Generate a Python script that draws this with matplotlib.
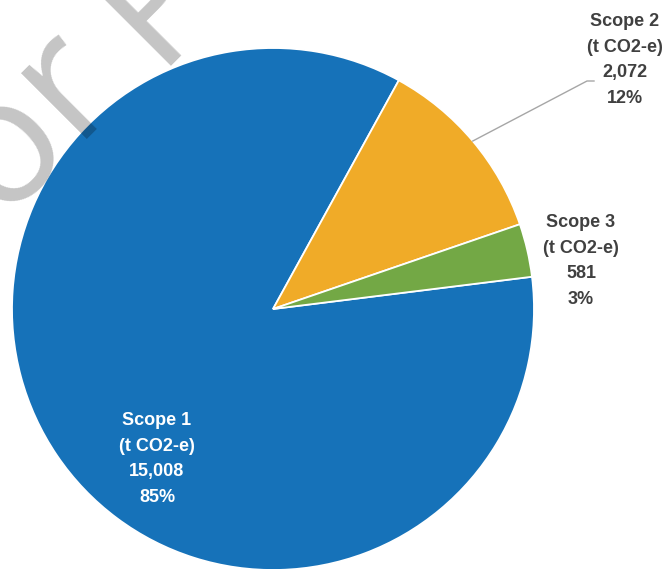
import numpy as np
import matplotlib.pyplot as plt

# emissions by scope (t CO2-e)
scopes = ['Scope 1', 'Scope 2', 'Scope 3']
emissions = [15008, 2072, 581]
shares = ['85%', '12%', '3%']
colors = ['#1672B9', '#F0AB28', '#73A845']

W, H = 668, 569
fig = plt.figure(figsize=(W / 100, H / 100), dpi=100)
ax = fig.add_axes([0, 0, 1, 1])

cx, cy, r = 273, H - 309, 261
wedges, _ = ax.pie(emissions, colors=colors, startangle=7.1, counterclock=False,
                   center=(cx, cy), radius=r,
                   wedgeprops={'edgecolor': 'white', 'linewidth': 1.3})
ax.set_xlim(0, W)
ax.set_ylim(0, H)
ax.set_aspect('equal')
ax.axis('off')

def label_text(i):
    return '%s\n(t CO2-e)\n%s\n%s' % (scopes[i], format(emissions[i], ','), shares[i])

lab_font = dict(family=['Liberation Sans', 'DejaVu Sans'], fontweight='bold', fontsize=13,
                ha='center', va='center', linespacing=1.68)

# Scope 1 inside the slice
ax.text(157, H - 459, label_text(0), color='white', **lab_font)

# Scope 2 outside with a leader line
w = wedges[1]
mid = np.deg2rad((w.theta1 + w.theta2) / 2)
sx, sy = cx + r * np.cos(mid), cy + r * np.sin(mid)
ax.plot([sx, 587, 594], [sy, H - 81, H - 81], color='#A6A6A6', lw=1.0)
ax.text(625, H - 60, label_text(1), color='#404040', **lab_font)

# Scope 3 outside
ax.text(581, H - 261, label_text(2), color='#404040', **lab_font)

# watermark across the top-left corner
wm = dict(family=['Open Sans', 'DejaVu Sans'], fontsize=126, color='black', alpha=0.23,
          rotation=45, rotation_mode='anchor', va='baseline', zorder=5)
ax.text(127, H - 99, 'Draft For', ha='right', **wm)
ax.text(160, H - 78, 'Public Comment', ha='left', **wm)

fig.savefig('out.png', dpi=100)
